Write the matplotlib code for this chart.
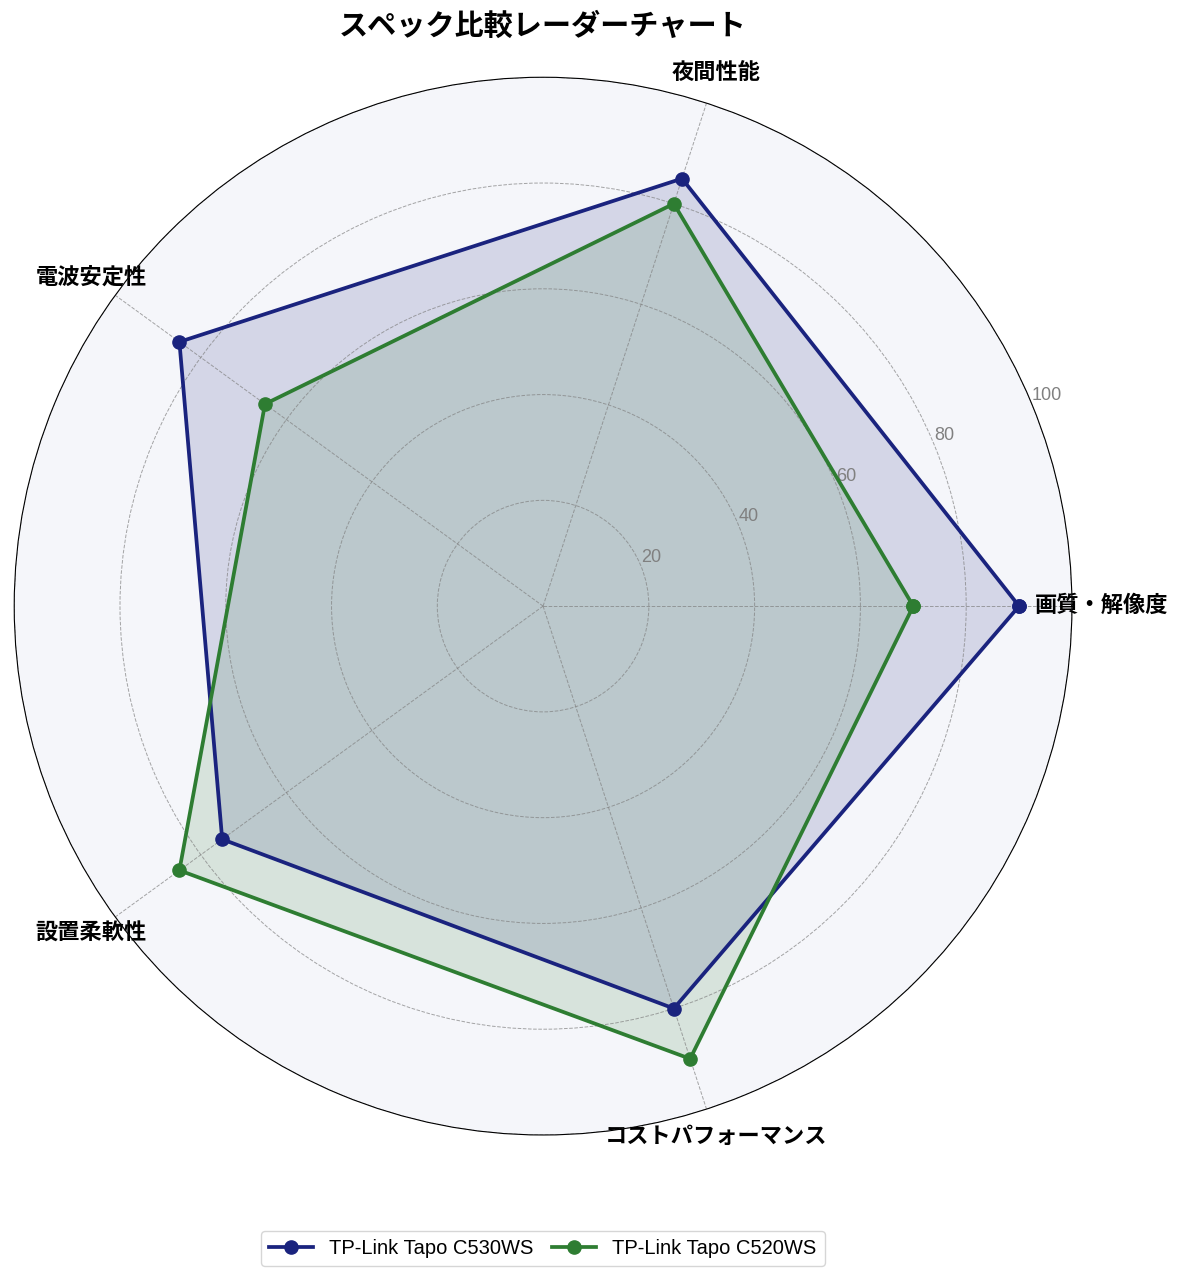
import numpy as np
import matplotlib.pyplot as plt

plt.rcParams['font.family'] = ['Liberation Sans', 'Noto Sans CJK JP']

categories = ['画質・解像度', '夜間性能', '電波安定性', '設置柔軟性', 'コストパフォーマンス']
c530_values = [90, 85, 85, 75, 80]
c520_values = [70, 80, 65, 85, 90]
series_names = ['TP-Link Tapo C530WS', 'TP-Link Tapo C520WS']
series_colors = ['#1a237e', '#2e7d32']
r_ticks = [20, 40, 60, 80, 100]


def plot():
    n = len(categories)
    angles = np.linspace(0, 2 * np.pi, n, endpoint=False).tolist()
    angles += angles[:1]

    fig = plt.figure(figsize=(11.85, 12.79), dpi=100)
    ax = fig.add_axes([0.0118, 0.1126, 0.893, 0.827], projection='polar')
    ax.set_facecolor('#f5f6fa')

    for vals, name, col in zip([c530_values, c520_values], series_names, series_colors):
        v = vals + vals[:1]
        ax.plot(angles, v, color=col, linewidth=2.7, marker='o', markersize=9.5, label=name)
        ax.fill(angles, v, color=col, alpha=0.15)

    ax.set_ylim(0, 100)
    ax.set_yticks(r_ticks)
    ax.set_yticklabels([str(t) for t in r_ticks], color='gray', fontsize=13)
    ax.set_rlabel_position(22.5)
    ax.set_xticks(angles[:-1])
    ax.set_xticklabels(categories, fontsize=16, fontweight='bold')
    ax.tick_params(axis='x', pad=11)
    ax.grid(color='gray', linestyle='--', linewidth=0.7, alpha=0.7)

    fig.text(0.458, 0.979, 'スペック比較レーダーチャート', fontsize=21, fontweight='bold',
             ha='center', va='center')
    fig.legend(loc='lower center', bbox_to_anchor=(0.458, 0.002), ncol=2, fontsize=14.5,
               columnspacing=0.9, handlelength=2.2)
    fig.savefig('out.png', dpi=100)


if __name__ == "__main__":
    plot()
